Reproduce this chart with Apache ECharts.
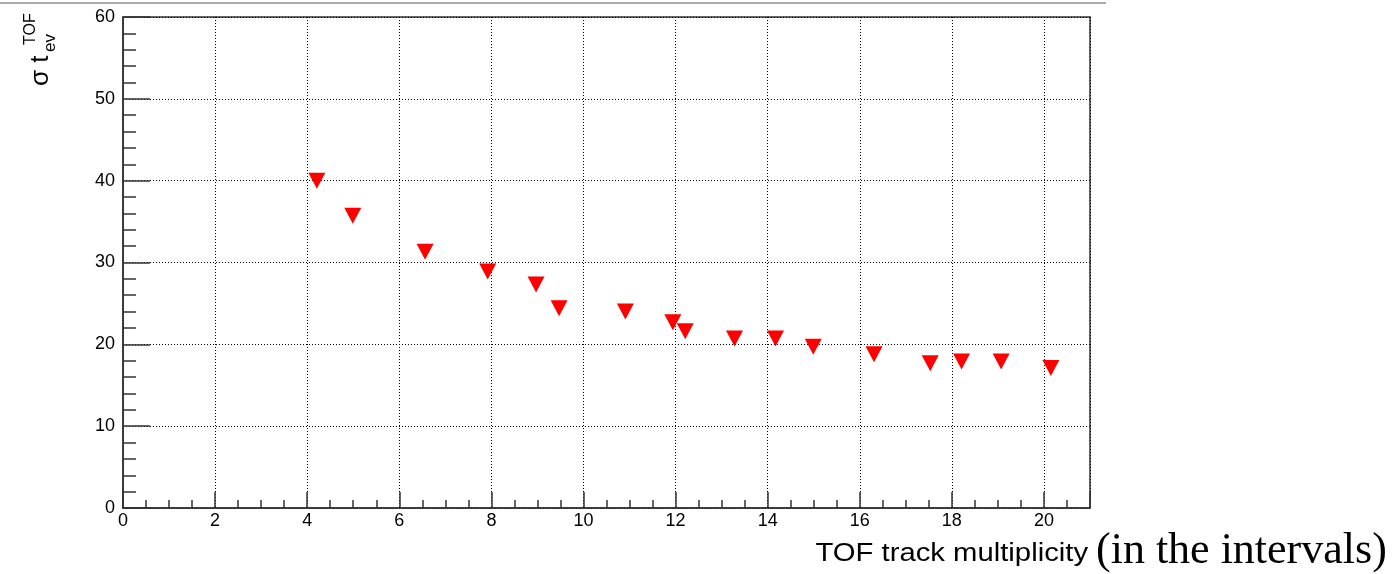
<!DOCTYPE html>
<html>
<head>
<meta charset="utf-8">
<script src="https://cdn.jsdelivr.net/npm/echarts@6/dist/echarts.min.js"></script>
<style>
html,body{margin:0;padding:0;background:#fff;}
#chart{width:1398px;height:574px;}
</style>
</head>
<body>
<div id="chart"></div>
<script>
// Data
const multiplicity = [4.21, 4.99, 6.56, 7.92, 8.97, 9.47, 10.91, 11.94, 12.21, 13.28, 14.17, 14.99, 16.31, 17.53, 18.21, 19.07, 20.15];
const sigmaTev    = [40.0, 35.7, 31.3, 28.9, 27.3, 24.4, 24.0, 22.7, 21.6, 20.7, 20.7, 19.7, 18.8, 17.7, 17.9, 17.9, 17.1];
const xTitle = 'TOF track multiplicity';
const xTitleNote = '(in the intervals)';
const yTitleMain = 'σ t';
const yTitleSup = 'TOF';
const yTitleSub = 'ev';

const chart = echarts.init(document.getElementById('chart'), null, {renderer: 'canvas'});
const FONT = 'Liberation Sans';
const axisColor = '#333';
const gridDash = [1, 2];

const option = {
  animation: false,
  backgroundColor: '#fff',
  grid: {
    left: 123, right: 308, top: 17, bottom: 66,
    show: true, borderColor: axisColor, borderWidth: 1.5, backgroundColor: 'transparent'
  },
  xAxis: [
    {
      type: 'value', min: 0, max: 21, interval: 2, position: 'bottom',
      axisLine: {show: true, lineStyle: {color: axisColor, width: 1.5}},
      axisTick: {show: true, inside: true, length: 16, lineStyle: {color: axisColor, width: 1.5}},
      minorTick: {show: false},
      axisLabel: {
        show: true, color: '#000', fontFamily: FONT, fontSize: 18, margin: 4,
        formatter: v => (v % 2 === 0 ? String(v) : '')
      },
      splitLine: {show: true, lineStyle: {color: '#000', type: gridDash, width: 1}}
    },
    {
      type: 'value', min: 0, max: 21, interval: 0.5, position: 'bottom',
      axisLine: {show: false},
      axisTick: {show: true, inside: true, length: 8, lineStyle: {color: axisColor, width: 1.5}},
      axisLabel: {show: false},
      splitLine: {show: false}
    }
  ],
  yAxis: {
    type: 'value', min: 0, max: 60, interval: 10,
    axisLine: {show: true, lineStyle: {color: axisColor, width: 1.5}},
    axisTick: {show: true, inside: true, length: 27, lineStyle: {color: axisColor, width: 1.5}},
    minorTick: {show: true, splitNumber: 5, length: 13, lineStyle: {color: axisColor, width: 1.5}},
    axisLabel: {show: true, color: '#000', fontFamily: FONT, fontSize: 18, margin: 8},
    splitLine: {show: true, lineStyle: {color: '#000', type: gridDash, width: 1}}
  },
  series: [{
    type: 'scatter',
    xAxisIndex: 0,
    data: multiplicity.map((x, i) => [x, sigmaTev[i]]),
    symbol: 'triangle',
    symbolRotate: 180,
    symbolSize: [17, 16],
    itemStyle: {color: '#ff0000', opacity: 1},
    emphasis: {disabled: true}
  }],
  graphic: [
    {type: 'line', shape: {x1: 0, y1: 3, x2: 1106, y2: 3}, style: {stroke: '#aaa', lineWidth: 2}, silent: true},
    {
      type: 'group', x: 1088, y: 562, scaleX: 1.125,
      children: [
        {type: 'text', x: 0, y: -8, style: {text: xTitle, font: '26px "Liberation Sans"', fill: '#000', align: 'right', verticalAlign: 'middle'}}
      ]
    },
    {
      type: 'text', left: 1096, top: 529,
      style: {text: xTitleNote, font: '44px "Liberation Serif"', fill: '#000'}
    },
    {
      type: 'group', x: 49, y: 86, rotation: Math.PI / 2,
      children: [
        {type: 'text', x: 0, y: -8, style: {text: yTitleMain, font: '26px "Liberation Sans"', fill: '#000', verticalAlign: 'middle', align: 'left'}},
        {type: 'text', x: 41, y: -18.5, style: {text: yTitleSup, font: '16px "Liberation Sans"', fill: '#000', verticalAlign: 'middle', align: 'left'}},
        {type: 'text', x: 34, y: 1, style: {text: yTitleSub, font: '17px "Liberation Sans"', fill: '#000', verticalAlign: 'middle', align: 'left'}}
      ]
    }
  ]
};
chart.setOption(option);
</script>
</body>
</html>
